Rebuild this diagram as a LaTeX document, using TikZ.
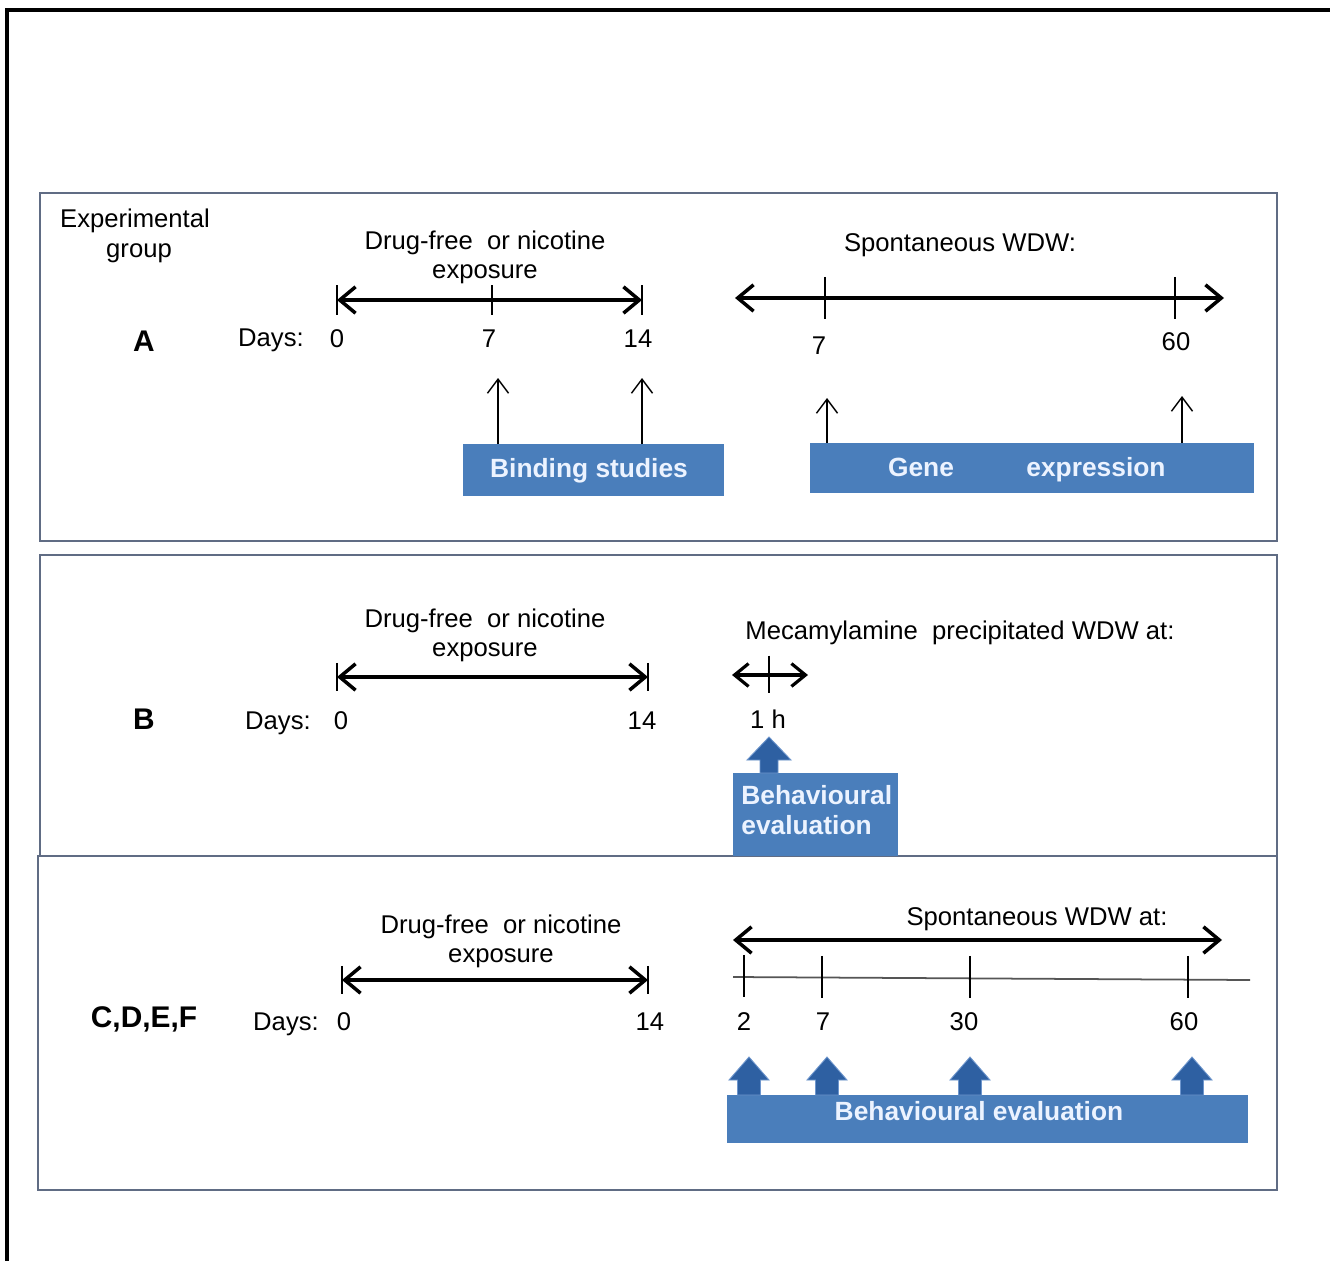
\documentclass[tikz,border=0pt]{standalone}
\usepackage{fontspec}
\setmainfont{Liberation Sans}
\usetikzlibrary{arrows.meta}
\definecolor{boxblue}{RGB}{74,126,187}
\definecolor{arrblue}{RGB}{46,96,162}
\definecolor{arredge}{RGB}{110,150,205}
\definecolor{boxtxt}{RGB}{236,243,255}
\definecolor{panelc}{RGB}{96,108,132}
\definecolor{axisgray}{RGB}{85,85,85}
\begin{document}
\begin{tikzpicture}[x=0.02cm,y=-0.02cm,
  txt/.style={anchor=base,inner sep=0pt,font=\fontsize{14.6}{17}\selectfont},
  grp/.style={anchor=base,inner sep=0pt,font=\fontsize{17}{20}\selectfont\bfseries},
  bluebox/.style={fill=boxblue,draw=none,inner sep=0pt,anchor=north west},
  boxlabel/.style={anchor=base,inner sep=0pt,text=boxtxt,font=\fontsize{15}{18}\selectfont\bfseries},
  timeline/.style={line width=2pt,{Straight Barb[length=9pt,width=15pt]}-{Straight Barb[length=9pt,width=15pt]}},
  shorttl/.style={line width=1.8pt,{Straight Barb[length=8pt,width=13pt]}-{Straight Barb[length=8pt,width=13pt]}},
  tickmark/.style={line width=1pt},
  probe/.style={line width=0.8pt,-{Straight Barb[length=8pt,width=12pt]}},
  blockarrow/.style={fill=arrblue,draw=arredge,line width=0.5pt},
  panelbox/.style={draw=panelc,line width=1.2pt}]
\useasboundingbox (0,0) rectangle (1330,1261);
\fill[white] (0,0) rectangle (1330,1261);
% outer frame (cut by the page edge)
\draw[line width=1.8pt] (7,1261) -- (7,10) -- (1330,10);
% panels
\draw[panelbox] (40,193) rectangle (1277,541);
\draw[panelbox] (40,555) rectangle (1277,856);
\draw[panelbox] (38,856) rectangle (1277,1190);

% ---------------- Panel A ----------------
\node[txt] (expA) at (135,227) {Experimental};
\node[txt] (expB) at (139,257) {group};
\node[txt] (dfA) at (485,249) {Drug-free\ \ or nicotine};
\node[txt] (exA) at (485,278) {exposure};
\node[grp] (gA) at (144,351) {A};
\node[txt] (daysA) at (271,346) {Days:};
\node[txt] (nA0) at (337,347) {0};
\node[txt] (nA7) at (489,347) {7};
\node[txt] (nA14) at (638,347) {14};
\coordinate (a0) at (337,300);
\coordinate (a7) at (492,300);
\coordinate (a14) at (642,300);
\draw[timeline] (a0) -- (a14);
\foreach \c in {a0,a7,a14}
  \draw[tickmark] ([yshift=8.5pt]\c) -- ([yshift=-8.5pt]\c);

\node[txt] (spA) at (960,251) {Spontaneous WDW:};
\coordinate (s0) at (735,298);
\coordinate (s7) at (825,298);
\coordinate (s60) at (1175,298);
\coordinate (s1) at (1224,298);
\draw[timeline] (s0) -- (s1);
\foreach \c in {s7,s60}
  \draw[tickmark] ([yshift=12pt]\c) -- ([yshift=-12pt]\c);
\node[txt] (nS7) at (819,354) {7};
\node[txt] (nS60) at (1176,350) {60};

\node[bluebox,minimum width=5.22cm,minimum height=1.04cm] (bind) at (463,444) {};
\node[boxlabel] (bindT) at (589,477) {Binding\ studies};
\coordinate (pb7) at (498,378);
\coordinate (pb14) at (642,378);
\draw[probe] (bind.north -| pb7) -- (pb7);
\draw[probe] (bind.north -| pb14) -- (pb14);

\node[bluebox,minimum width=8.88cm,minimum height=1.0cm] (gene) at (810,443) {};
\node[boxlabel] (geneT1) at (921,476) {Gene};
\node[boxlabel] (geneT2) at (1096,476) {expression};
\coordinate (pg7) at (827,398);
\coordinate (pg60) at (1182,396);
\draw[probe] (gene.north -| pg7) -- (pg7);
\draw[probe] (gene.north -| pg60) -- (pg60);

% ---------------- Panel B ----------------
\node[txt] (dfB) at (485,627) {Drug-free\ \ or nicotine};
\node[txt] (exB) at (485,656) {exposure};
\node[grp] (gB) at (144,729) {B};
\node[txt] (daysB) at (278,729) {Days:};
\node[txt] (nB0) at (341,729) {0};
\node[txt] (nB14) at (642,729) {14};
\coordinate (b0) at (337,677);
\coordinate (b14) at (648,677);
\draw[timeline] (b0) -- (b14);
\foreach \c in {b0,b14}
  \draw[tickmark] ([yshift=8pt]\c) -- ([yshift=-8pt]\c);

\node[txt] (mecB) at (960,639) {Mecamylamine\ \ precipitated WDW at:};
\coordinate (m0) at (732,675);
\coordinate (m1) at (769,675);
\coordinate (m2) at (808,675);
\draw[shorttl] (m0) -- (m2);
\draw[tickmark] ([yshift=11pt]m1) -- ([yshift=-10pt]m1);
\node[txt] (hB) at (768,728) {1 h};

\node[bluebox,minimum width=3.3cm,minimum height=1.66cm] (behB) at (733,773) {};
\node[boxlabel,anchor=base west] (behB1) at (741,804) {Behavioural};
\node[boxlabel,anchor=base west] (behB2) at (741,834) {evaluation};
\draw[blockarrow] (behB.north -| m1) ++(-9,0) -- ++(0,-13) -- ++(-13,0) -- ++(22,-23) -- ++(22,23) -- ++(-13,0) -- ++(0,13) -- cycle;

% ---------------- Panel C ----------------
\node[txt] (dfC) at (501,933) {Drug-free\ \ or nicotine};
\node[txt] (exC) at (501,962) {exposure};
\node[grp] (gC) at (144,1027) {C,D,E,F};
\node[txt] (daysC) at (286,1030) {Days:};
\node[txt] (nC0) at (344,1030) {0};
\node[txt] (nC14) at (650,1030) {14};
\coordinate (c0) at (342,980);
\coordinate (c14) at (648,980);
\draw[timeline] (c0) -- (c14);
\foreach \c in {c0,c14}
  \draw[tickmark] ([yshift=8pt]\c) -- ([yshift=-8pt]\c);

\node[txt] (spC) at (1037,925) {Spontaneous WDW at:};
\coordinate (w0) at (733,940);
\coordinate (w1) at (1222,940);
\draw[timeline] (w0) -- (w1);
\coordinate (g0) at (733,977);
\coordinate (g1) at (1250,980);
\draw[axisgray,line width=1pt] (g0) -- (g1);
\coordinate (t2) at (744,976);
\coordinate (t7) at (822,977);
\coordinate (t30) at (970,977);
\coordinate (t60) at (1188,977);
\foreach \c in {t2,t7,t30,t60}
  \draw[tickmark] ([yshift=12pt]\c) -- ([yshift=-12pt]\c);
\node[txt] (nC2) at (744,1030) {2};
\node[txt] (nC7) at (823,1030) {7};
\node[txt] (nC30) at (964,1030) {30};
\node[txt] (nC60) at (1184,1030) {60};

\node[bluebox,minimum width=10.42cm,minimum height=0.96cm] (behC) at (727,1095) {};
\node[boxlabel] (behCT) at (979,1120) {Behavioural evaluation};
\foreach \xx in {749,827,970,1192}
  \draw[blockarrow] (behC.north -| \xx,0) ++(-11.5,0) -- ++(0,-15) -- ++(-8.5,0) -- ++(20,-23) -- ++(20,23) -- ++(-8.5,0) -- ++(0,15) -- cycle;
\end{tikzpicture}
\end{document}
